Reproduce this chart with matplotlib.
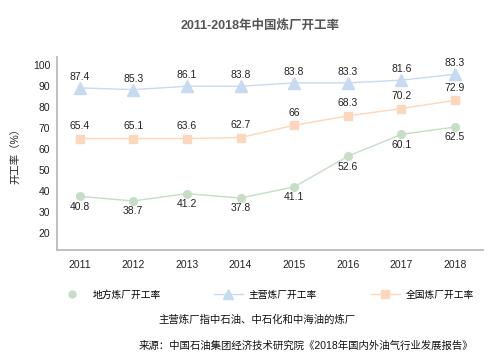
import matplotlib.pyplot as plt
from matplotlib.lines import Line2D

plt.rcParams['font.family'] = ['Liberation Sans', 'Noto Sans CJK SC', 'DejaVu Sans']

# years on the category axis
years = ['2011', '2012', '2013', '2014', '2015', '2016', '2017', '2018']

# plotted positions
local_vals = [37.6, 35.4, 38.9, 36.8, 42.1, 56.7, 67.1, 70.6]
major_vals = [89.2, 88.4, 90.0, 90.0, 91.6, 91.6, 92.9, 95.7]
total_vals = [65.1, 65.1, 65.1, 65.6, 71.4, 75.9, 79.4, 83.3]

# data labels as printed
local_labels = ['40.8', '38.7', '41.2', '37.8', '41.1', '52.6', '60.1', '62.5']
major_labels = ['87.4', '85.3', '86.1', '83.8', '83.8', '83.3', '81.6', '83.3']
total_labels = ['65.4', '65.1', '63.6', '62.7', '66', '68.3', '70.2', '72.9']

GREEN = '#c6ddc6'
BLUE = '#c6daf2'
ORANGE = '#fdd7bb'

fig = plt.figure(figsize=(5.01, 3.62), dpi=100)
ax = fig.add_axes([0.114, 0.309, 0.85, 0.534])

x = range(len(years))
ax.plot(x, local_vals, color=GREEN, lw=1, marker='o', ms=5.5, mec=GREEN)
ax.plot(x, major_vals, color=BLUE, lw=1, marker='^', ms=8, mec=BLUE)
ax.plot(x, total_vals, color=ORANGE, lw=1, marker='s', ms=6, mec=ORANGE)

# value labels
for xi, v, t in zip(x, major_vals, major_labels):
    ax.annotate(t, (xi, v), xytext=(0, 8), textcoords='offset points',
                ha='center', va='center', fontsize=7.5, color='#222222')
for xi, v, t in zip(x, total_vals, total_labels):
    ax.annotate(t, (xi, v), xytext=(0, 9), textcoords='offset points',
                ha='center', va='center', fontsize=7.5, color='#222222')
for xi, v, t in zip(x, local_vals, local_labels):
    ax.annotate(t, (xi, v), xytext=(0, -7.5), textcoords='offset points',
                ha='center', va='center', fontsize=7.5, color='#222222')

ax.set_xlim(-0.42, 7.52)
ax.set_ylim(12, 104)
ax.set_yticks(range(20, 101, 10))
ax.set_xticks(list(x))
ax.set_xticklabels(years)
ax.tick_params(length=0, labelsize=7.5, colors='#222222')
ax.tick_params(axis='x', pad=7)
ax.tick_params(axis='y', pad=5)
for s in ['top', 'right']:
    ax.spines[s].set_visible(False)
for s in ['left', 'bottom']:
    ax.spines[s].set_color('#bbbbbb')
    ax.spines[s].set_linewidth(1.3)

ax.set_ylabel('开工率（%）', fontsize=7.5, color='#222222', labelpad=9)

fig.text(0.52, 0.928, '2011-2018年中国炼厂开工率', ha='center', va='center',
         fontsize=9, fontweight='bold', color='#555555')

handles = [
    Line2D([], [], color=GREEN, lw=0, marker='o', ms=5, mec=GREEN),
    Line2D([], [], color=BLUE, lw=1, marker='^', ms=7, mec=BLUE),
    Line2D([], [], color=ORANGE, lw=1, marker='s', ms=6, mec=ORANGE),
]
fig.legend(handles, ['地方炼厂开工率', '主营炼厂开工率', '全国炼厂开工率'],
           loc='center', bbox_to_anchor=(0.53, 0.186), ncol=3, frameon=False,
           fontsize=7, handlelength=3, columnspacing=5.5, handletextpad=0.6)

fig.text(0.513, 0.116, '主营炼厂指中石油、中石化和中海油的炼厂', ha='center', va='center',
         fontsize=7.5, color='#111111')
fig.text(0.945, 0.044, '来源：中国石油集团经济技术研究院《2018年国内外油气行业发展报告》',
         ha='right', va='center', fontsize=7.5, color='#111111')

fig.savefig('out.png', dpi=100)
